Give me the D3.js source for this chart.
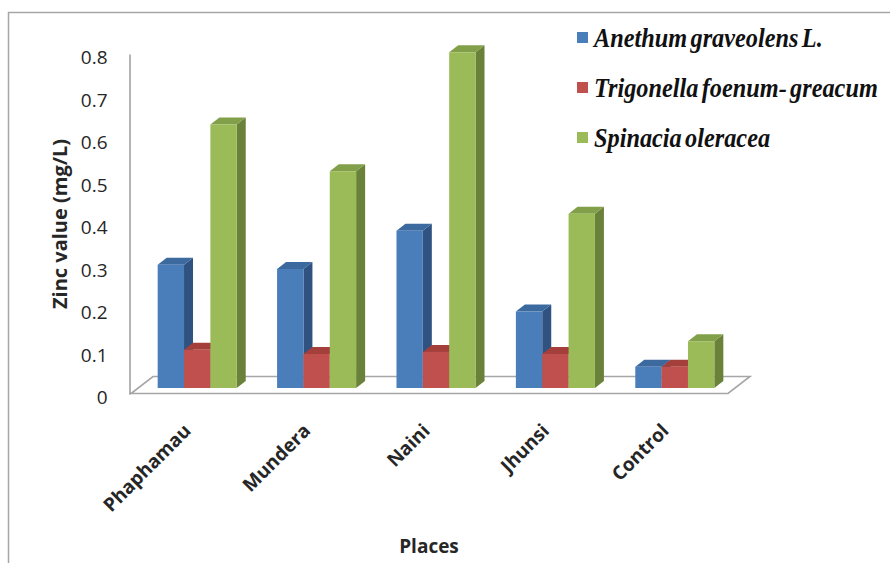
<!DOCTYPE html>
<html>
<head>
<meta charset="utf-8">
<script src="https://cdn.jsdelivr.net/npm/d3@7"></script>
<style>
  html, body { margin: 0; padding: 0; background: #fff; }
  svg { display: block; }
</style>
</head>
<body>
<svg id="chart" width="890" height="563"></svg>
<script>
// Zinc content (mg/L) of three leafy vegetables at each sampling place
const places = ["Phaphamau", "Mundera", "Naini", "Jhunsi", "Control"];
const seriesNames = ["Anethum graveolens L.", "Trigonella foenum- greacum", "Spinacia oleracea"];
const anethum = [0.29, 0.28, 0.37, 0.18, 0.05];
const trigonella = [0.09, 0.08, 0.085, 0.08, 0.05];
const spinacia = [0.62, 0.51, 0.79, 0.41, 0.11];
const yTicks = [0, 0.1, 0.2, 0.3, 0.4, 0.5, 0.6, 0.7, 0.8];
const yTickLabels = ["0", "0.1", "0.2", "0.3", "0.4", "0.5", "0.6", "0.7", "0.8"];

const seriesValues = [anethum, trigonella, spinacia];
// front, top, side shades for each series
const faceColors = [
  { front: "#4A7EBB", top: "#3C6A9F", side: "#2F5281" },
  { front: "#C0504D", top: "#A43F3C", side: "#8A3533" },
  { front: "#9BBB59", top: "#82A04A", side: "#6A8139" }
];

const svg = d3.select("#chart");
const sansFont = "'Open Sans', 'Liberation Sans', sans-serif";

// outer chart frame
svg.append("path")
  .attr("d", "M8.5,563 V12.5 H890")
  .attr("fill", "none")
  .attr("stroke", "#A6A6A6")
  .attr("stroke-width", 1.5);

// floor geometry (front edge and depth offset)
const floorLeft = 131, floorRight = 728, floorFront = 393.5;
const floorDepth = { dx: 22, dy: -17 };

// value scale along the front edge of the chart
const yFront = d3.scaleLinear().domain([0, 0.8]).range([394, 54]);

// bars sit part way back into the floor
const barShift = { dx: 6.5, dy: -6 };
const barDepth = { dx: 9, dy: -7 };
const yBar = v => yFront(v) + barShift.dy;

const x0 = d3.scaleBand()
  .domain(places)
  .range([floorLeft + barShift.dx, floorRight + barShift.dx])
  .paddingInner(0.338)
  .paddingOuter(0.169);

const x1 = d3.scaleBand()
  .domain(d3.range(seriesNames.length))
  .range([0, x0.bandwidth()]);

// floor plate
const floorPts = [
  [floorLeft, floorFront],
  [floorRight, floorFront],
  [floorRight + floorDepth.dx, floorFront + floorDepth.dy],
  [floorLeft + floorDepth.dx, floorFront + floorDepth.dy]
];
svg.append("path")
  .attr("d", d3.line()(floorPts) + "Z")
  .attr("fill", "#fff")
  .attr("stroke", "#A6A6A6")
  .attr("stroke-width", 1.6);

// vertical value axis
const yAxis = d3.axisLeft(yFront)
  .tickValues(yTicks)
  .tickFormat((d, i) => yTickLabels[i])
  .tickSize(0)
  .tickPadding(22);

const axisG = svg.append("g")
  .attr("transform", "translate(129.5,0)")
  .call(yAxis);
axisG.select(".domain").attr("stroke", "#8C8C8C").attr("stroke-width", 1.3);
axisG.selectAll("text")
  .attr("font-family", sansFont)
  .attr("font-size", 19)
  .attr("fill", "#262626")
  .attr("dy", "0.5em");

// 3D columns, drawn left to right so each front face overlaps its neighbour's side
const bars = [];
places.forEach((p, i) => {
  seriesValues.forEach((vals, s) => {
    bars.push({ place: p, series: s, value: vals[i] });
  });
});

const barG = svg.append("g");
bars.forEach(b => {
  const x = x0(b.place) + x1(b.series);
  const w = x1.bandwidth();
  const yt = yBar(b.value);
  const yb = yBar(0);
  const c = faceColors[b.series];
  const g = barG.append("g");
  g.append("path")
    .attr("d", d3.line()([[x + w, yt], [x + w + barDepth.dx, yt + barDepth.dy],
      [x + w + barDepth.dx, yb + barDepth.dy], [x + w, yb]]) + "Z")
    .attr("fill", c.side);
  g.append("path")
    .attr("d", d3.line()([[x, yt], [x + w, yt], [x + w + barDepth.dx, yt + barDepth.dy],
      [x + barDepth.dx, yt + barDepth.dy]]) + "Z")
    .attr("fill", c.top);
  g.append("rect")
    .attr("x", x).attr("y", yt)
    .attr("width", w).attr("height", yb - yt)
    .attr("fill", c.front);
});

// category labels, rotated
svg.append("g")
  .selectAll("text")
  .data(places)
  .join("text")
  .attr("transform", d => `translate(${x0(d) + x0.bandwidth() / 2 - 5},432) rotate(-45)`)
  .attr("text-anchor", "end")
  .attr("font-family", sansFont)
  .attr("font-weight", "bold")
  .attr("font-size", 19)
  .attr("fill", "#262626")
  .text(d => d);

// axis titles
svg.append("text")
  .attr("transform", "translate(67,224) rotate(-90)")
  .attr("text-anchor", "middle")
  .attr("font-family", sansFont)
  .attr("font-weight", "bold")
  .attr("font-size", 20)
  .attr("fill", "#262626")
  .text("Zinc value (mg/L)");

svg.append("text")
  .attr("x", 429).attr("y", 553)
  .attr("text-anchor", "middle")
  .attr("font-family", sansFont)
  .attr("font-weight", "bold")
  .attr("font-size", 19)
  .attr("fill", "#262626")
  .text("Places");

// legend
const legend = svg.append("g").attr("transform", "translate(577,0)");
seriesNames.forEach((name, s) => {
  const cy = 38 + s * 50;
  legend.append("rect")
    .attr("x", 0).attr("y", cy - 6)
    .attr("width", 11).attr("height", 11)
    .attr("fill", faceColors[s].front);
  legend.append("text")
    .attr("transform", `translate(17,${cy + 9}) scale(0.9,1)`)
    .style("font-family", "'Liberation Serif', 'Times New Roman', serif")
    .style("font-weight", "bold")
    .style("font-style", "italic")
    .style("font-size", "27px")
    .style("word-spacing", "-3px")
    .attr("fill", "#111")
    .text(name);
});
</script>
</body>
</html>
